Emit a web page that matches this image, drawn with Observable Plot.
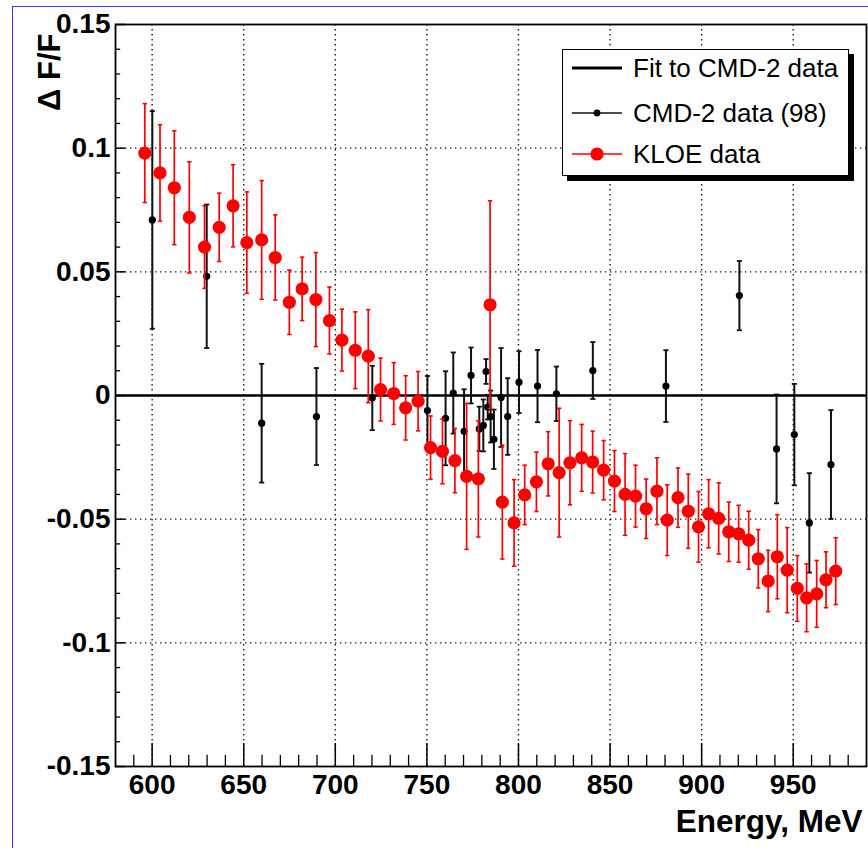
<!DOCTYPE html>
<html>
<head>
<meta charset="utf-8">
<script src="https://cdn.jsdelivr.net/npm/d3@7"></script>
<script src="https://cdn.jsdelivr.net/npm/@observablehq/plot@0.6"></script>
<style>
  body { margin: 0; background: white; }
  #wrap { position: relative; width: 868px; height: 848px; overflow: hidden; background: white; }
  #border { position: absolute; left: 12px; top: 6px; width: 900px; height: 900px; border: 1.5px solid #3b3bea; pointer-events: none; }
  #legend { position: absolute; left: 562px; top: 49px; width: 287px; height: 127px; box-sizing: border-box;
            border: 1.5px solid #000; background: white; box-shadow: 5px 5px 0 #000; }
  text { font-family: "Liberation Sans", Arial, Helvetica, sans-serif; }
</style>
</head>
<body>
<div id="wrap">
  <div id="chart"></div>
  <div id="legend"></div>
  <div id="border"></div>
</div>
<script>
// KLOE data: energy (MeV), ΔF/F, error
const kloeE = [596, 604.3, 612.1, 620.3, 628.6, 636.6, 644.2, 651.7, 659.8, 667.2,
  674.9, 681.9, 689.4, 696.8, 703.6, 710.9, 718, 724.7, 731.9, 738.4,
  745.2, 752, 758.5, 765.3, 771.7, 778.1, 784.5, 791.2, 797.6, 803.4,
  809.8, 816.2, 822.2, 828.1, 834.5, 840.5, 846.5, 852.4, 858.2, 863.9,
  869.7, 875.6, 881.2, 887.1, 892.7, 898.3, 903.8, 909.3, 914.8, 920.2,
  925.7, 930.9, 936.3, 941.3, 946.7, 952.2, 957.3, 962.8, 967.9, 973.2];
const kloeV = [0.098, 0.090, 0.084, 0.072, 0.060, 0.068, 0.0767, 0.0618, 0.0629, 0.0558,
  0.0377, 0.0431, 0.0388, 0.0303, 0.0224, 0.0183, 0.0159, 0.0024, 0.0008, -0.005,
  -0.0023, -0.0211, -0.0226, -0.0263, -0.0327, -0.0337, 0.0367, -0.0431, -0.0515, -0.0402,
  -0.0349, -0.0276, -0.0312, -0.0272, -0.0252, -0.0269, -0.0302, -0.0346, -0.040, -0.0407,
  -0.0458, -0.0387, -0.0504, -0.0413, -0.0468, -0.0531, -0.0478, -0.0497, -0.0551, -0.0559,
  -0.0585, -0.066, -0.075, -0.0652, -0.0706, -0.078, -0.0818, -0.0802, -0.0745, -0.071];
const kloeErr = [0.020, 0.0195, 0.023, 0.0225, 0.0167, 0.0138, 0.0166, 0.0205, 0.024, 0.0172,
  0.013, 0.0128, 0.019, 0.0135, 0.0125, 0.0155, 0.0188, 0.0127, 0.0125, 0.013,
  0.012, 0.0128, 0.0131, 0.013, 0.0295, 0.0235, 0.042, 0.023, 0.0175, 0.012,
  0.012, 0.013, 0.026, 0.017, 0.0135, 0.0125, 0.012, 0.0123, 0.0165, 0.0125,
  0.012, 0.0135, 0.0143, 0.012, 0.015, 0.0143, 0.0138, 0.0144, 0.012, 0.0115,
  0.0117, 0.0118, 0.0124, 0.017, 0.0172, 0.0133, 0.0137, 0.0135, 0.0113, 0.0135];

// CMD-2 (98) data
const cmdE = [600.1, 629.8, 659.8, 689.7, 720.2, 750.3, 760.2, 764.4, 770.3, 774.1,
  778.6, 780.8, 782.3, 783.2, 784.8, 786.6, 790.5, 794.1, 800.3, 810.4,
  820.7, 840.6, 880.5, 920.6, 940.9, 950.6, 958.8, 970.6];
const cmdV = [0.071, 0.0482, -0.0112, -0.0085, -0.001, -0.0061, -0.0092, 0.001, -0.0145, 0.0081,
  -0.0135, -0.0121, 0.0097, -0.0047, -0.0085, -0.0177, -0.0008, -0.0085, 0.0054, 0.0038,
  0.0007, 0.0101, 0.0038, 0.0404, -0.0216, -0.0158, -0.0515, -0.0279];
const cmdErr = [0.044, 0.029, 0.024, 0.0196, 0.013, 0.014, 0.019, 0.0164, 0.017, 0.0113,
  0.009, 0.0105, 0.005, 0.005, 0.0105, 0.012, 0.02, 0.0155, 0.0125, 0.0146,
  0.011, 0.0115, 0.0145, 0.014, 0.022, 0.0205, 0.0201, 0.022];

const fitValue = [0];

const xMajorTicks = [600, 650, 700, 750, 800, 850, 900, 950];
const xMinorTicks = [590, 610, 620, 630, 640, 660, 670, 680, 690, 710, 720, 730, 740,
  760, 770, 780, 790, 810, 820, 830, 840, 860, 870, 880, 890, 910, 920, 930, 940, 960, 970, 980];
const yTicks = [-0.15, -0.1, -0.05, 0, 0.05, 0.1, 0.15];
const yTickLabels = ["-0.15", "-0.1", "-0.05", "0", "0.05", "0.1", "0.15"];
const yGrid = [-0.1, -0.05, 0.05, 0.1];
const yMinorTicks = [-0.14, -0.13, -0.12, -0.11, -0.09, -0.08, -0.07, -0.06, -0.04, -0.03, -0.02, -0.01,
  0.01, 0.02, 0.03, 0.04, 0.06, 0.07, 0.08, 0.09, 0.11, 0.12, 0.13, 0.14];
const legendLabels = ["Fit to CMD-2 data", "CMD-2 data (98)", "KLOE data"];
const xTitle = "Energy, MeV";
const yTitle = "\u0394 F/F";

const kloe = kloeE.map((E, i) => ({E, v: kloeV[i], e: kloeErr[i]}));
const cmd = cmdE.map((E, i) => ({E, v: cmdV[i], e: cmdErr[i]}));

const FONT = '"Liberation Sans", Arial, Helvetica, sans-serif';
const RED = "#f00";
const yBottom = -0.15;

const chart = Plot.plot({
  width: 868,
  height: 848,
  marginLeft: 115,
  marginRight: 2,
  marginTop: 24,
  marginBottom: 82,
  x: {domain: [580, 990]},
  y: {domain: [-0.15, 0.15]},
  style: {fontFamily: FONT, background: "white", color: "black", overflow: "visible"},
  marks: [
    Plot.gridX(xMajorTicks, {stroke: "#000", strokeOpacity: 0.9, strokeWidth: 1.4, strokeDasharray: "1.4,3.6"}),
    Plot.gridY(yGrid, {stroke: "#000", strokeOpacity: 0.9, strokeWidth: 1.4, strokeDasharray: "1.4,3.6"}),
    // inward ticks on the x axis
    Plot.ruleX(xMajorTicks, {x: d => d, y1: yBottom, y2: yBottom + 0.0093, stroke: "#000", strokeWidth: 1.5}),
    Plot.ruleX(xMinorTicks, {x: d => d, y1: yBottom, y2: yBottom + 0.0045, stroke: "#000", strokeWidth: 1.3}),
    // inward ticks on the y axis
    Plot.ruleY(yTicks, {y: d => d, x1: 580, x2: 585.5, stroke: "#000", strokeWidth: 1.5}),
    Plot.ruleY(yMinorTicks, {y: d => d, x1: 580, x2: 582.8, stroke: "#000", strokeWidth: 1.3}),
    Plot.axisX(xMajorTicks, {tickSize: 0, tickPadding: 8, fontSize: 28, fontWeight: "bold", tickFormat: d => String(d), label: null}),
    Plot.axisY(yTicks, {tickSize: 0, tickPadding: 5, fontSize: 28, fontWeight: "bold", tickFormat: (d, i) => yTickLabels[yTicks.indexOf(d)], label: null}),
    // fit to CMD-2 data
    Plot.ruleY(fitValue, {stroke: "#000", strokeWidth: 2.6}),
    // CMD-2 data
    Plot.ruleX(cmd, {x: "E", y1: d => d.v - d.e, y2: d => d.v + d.e, stroke: "#111", strokeWidth: 2}),
    Plot.link(cmd, {x1: d => d.E - 1.4, x2: d => d.E + 1.4, y1: d => d.v + d.e, y2: d => d.v + d.e, stroke: "#111", strokeWidth: 1.8}),
    Plot.link(cmd, {x1: d => d.E - 1.4, x2: d => d.E + 1.4, y1: d => d.v - d.e, y2: d => d.v - d.e, stroke: "#111", strokeWidth: 1.8}),
    Plot.dot(cmd, {x: "E", y: "v", r: 3.6, fill: "#000", stroke: "none"}),
    // KLOE data
    Plot.ruleX(kloe, {x: "E", y1: d => d.v - d.e, y2: d => d.v + d.e, stroke: RED, strokeWidth: 1.7}),
    Plot.link(kloe, {x1: d => d.E - 1.2, x2: d => d.E + 1.2, y1: d => d.v + d.e, y2: d => d.v + d.e, stroke: RED, strokeWidth: 1.6}),
    Plot.link(kloe, {x1: d => d.E - 1.2, x2: d => d.E + 1.2, y1: d => d.v - d.e, y2: d => d.v - d.e, stroke: RED, strokeWidth: 1.6}),
    Plot.dot(kloe, {x: "E", y: "v", r: 6.6, fill: RED, stroke: "none"}),
    Plot.frame({stroke: "#000", strokeWidth: 1.8}),
    // axis titles
    Plot.text([xTitle], {text: d => d, frameAnchor: "bottom-right", textAnchor: "end", lineAnchor: "middle",
      dx: -4, dy: 55, fontSize: 31.5, fontWeight: "bold", fill: "#000"}),
    Plot.text([yTitle], {text: d => d, frameAnchor: "top-left", rotate: -90, textAnchor: "end", lineAnchor: "middle",
      dx: -65, dy: 9, fontSize: 31, fontWeight: "bold", fill: "#000"})
  ]
});
document.getElementById("chart").appendChild(chart);

// legend (inside the plot area, as in the reference)
const lg = d3.select("#legend").append("svg").attr("width", 284).attr("height", 124)
  .style("position", "absolute").style("left", "0px").style("top", "0px");
const rows = [18, 63, 104];
const styles = [
  {stroke: "#000", w: 3, r: 0, fill: "#000"},
  {stroke: "#111", w: 1.6, r: 3.4, fill: "#000"},
  {stroke: RED, w: 1.6, r: 6.6, fill: RED}
];
legendLabels.forEach((lab, i) => {
  const y = rows[i], s = styles[i];
  lg.append("line").attr("x1", 9).attr("x2", 59).attr("y1", y).attr("y2", y)
    .attr("stroke", s.stroke).attr("stroke-width", s.w);
  if (s.r > 0) lg.append("circle").attr("cx", 34).attr("cy", y).attr("r", s.r).attr("fill", s.fill);
  lg.append("text").attr("x", 70).attr("y", y).attr("dy", "0.35em")
    .attr("font-size", 26).attr("fill", "#000").style("font-family", FONT).text(lab);
});
</script>
</body>
</html>
